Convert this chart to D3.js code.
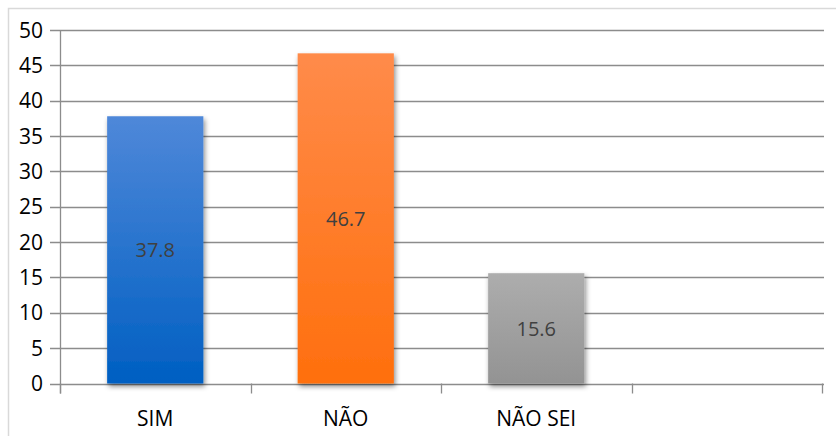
<!DOCTYPE html>
<html>
<head>
<meta charset="utf-8">
<script src="https://cdn.jsdelivr.net/npm/d3@7"></script>
<style>
  body { margin: 0; background: #fff; }
  svg { display: block; }
</style>
</head>
<body>
<svg width="836" height="436"></svg>
<script>
// dados do gráfico
const categories = ["SIM", "NÃO", "NÃO SEI", ""];
const values = [37.8, 46.7, 15.6];
const labels = ["37.8", "46.7", "15.6"];
const yTicks = [0, 5, 10, 15, 20, 25, 30, 35, 40, 45, 50];
const colorsTop = ["#4f88d9", "#ff8b4a", "#adadad"];
const colorsBottom = ["#005fc2", "#ff6f0d", "#939393"];

const svg = d3.select("svg");
const width = +svg.attr("width");
const height = +svg.attr("height");

const margin = {left: 60, right: 14, top: 30, bottom: 52.5};

// рамка вокруг диаграммы
svg.append("rect")
    .attr("x", 8.5).attr("y", 8.5)
    .attr("width", width + 10).attr("height", height + 10)
    .attr("fill", "#fff")
    .attr("stroke", "#d9d9d9")
    .attr("stroke-width", 1.5);

const x = d3.scaleBand()
    .domain(d3.range(categories.length))
    .range([margin.left, width - margin.right]);

const y = d3.scaleLinear()
    .domain([0, 50])
    .range([height - margin.bottom, margin.top]);

const defs = svg.append("defs");
values.forEach((v, i) => {
    const g = defs.append("linearGradient")
        .attr("id", "grad" + i)
        .attr("x1", 0).attr("y1", 0).attr("x2", 0).attr("y2", 1);
    g.append("stop").attr("offset", "0%").attr("stop-color", colorsTop[i]);
    g.append("stop").attr("offset", "100%").attr("stop-color", colorsBottom[i]);
});
const shadow = defs.append("filter").attr("id", "shadow")
    .attr("x", "-20%").attr("y", "-20%").attr("width", "140%").attr("height", "140%");
shadow.append("feDropShadow")
    .attr("dx", 1.5).attr("dy", 3)
    .attr("stdDeviation", 2.5)
    .attr("flood-color", "#000")
    .attr("flood-opacity", 0.45);

// линии сетки
svg.append("g")
    .selectAll("line")
    .data(yTicks)
    .join("line")
    .attr("x1", margin.left - 10)
    .attr("x2", width - margin.right + 2)
    .attr("y1", d => Math.round(y(d)) + 0.5)
    .attr("y2", d => Math.round(y(d)) + 0.5)
    .attr("stroke", "#8c8c8c")
    .attr("stroke-width", 1.3);

// ось y
svg.append("line")
    .attr("x1", margin.left + 0.5).attr("x2", margin.left + 0.5)
    .attr("y1", y(50)).attr("y2", y(0) + 10)
    .attr("stroke", "#8c8c8c").attr("stroke-width", 1.3);

svg.append("g")
    .selectAll("text")
    .data(yTicks)
    .join("text")
    .attr("x", 43)
    .attr("y", d => y(d))
    .attr("dy", "0.36em")
    .attr("text-anchor", "end")
    .attr("font-family", "'Open Sans', sans-serif")
    .attr("font-size", 21)
    .attr("fill", "#000")
    .text(d => d);

// деления оси x
const xTicks = d3.range(categories.length + 1).map(i =>
    i < categories.length ? x(i) : x(categories.length - 1) + x.bandwidth());
svg.append("g")
    .selectAll("line")
    .data(xTicks)
    .join("line")
    .attr("x1", d => Math.round(d) + 0.5)
    .attr("x2", d => Math.round(d) + 0.5)
    .attr("y1", y(0))
    .attr("y2", y(0) + 10)
    .attr("stroke", "#8c8c8c").attr("stroke-width", 1.3);

svg.append("g")
    .selectAll("text")
    .data(categories)
    .join("text")
    .attr("x", (d, i) => x(i) + x.bandwidth() / 2)
    .attr("y", 418)
    .attr("dy", "0.36em")
    .attr("text-anchor", "middle")
    .attr("font-family", "'Open Sans', sans-serif")
    .attr("font-size", 21)
    .attr("fill", "#000")
    .text(d => d);

// столбцы
const barW = x.bandwidth() * 0.505;
svg.append("g")
    .selectAll("rect")
    .data(values)
    .join("rect")
    .attr("x", (d, i) => x(i) + (x.bandwidth() - barW) / 2)
    .attr("y", d => y(d))
    .attr("width", barW)
    .attr("height", d => y(0) - y(d))
    .attr("fill", (d, i) => `url(#grad${i})`)
    .attr("filter", "url(#shadow)");

svg.append("g")
    .selectAll("text")
    .data(values)
    .join("text")
    .attr("x", (d, i) => x(i) + x.bandwidth() / 2)
    .attr("y", d => (y(d) + y(0)) / 2)
    .attr("dy", "0.36em")
    .attr("text-anchor", "middle")
    .attr("font-family", "'Open Sans', sans-serif")
    .attr("font-size", 20)
    .attr("fill", "#404040")
    .text((d, i) => labels[i]);
</script>
</body>
</html>
